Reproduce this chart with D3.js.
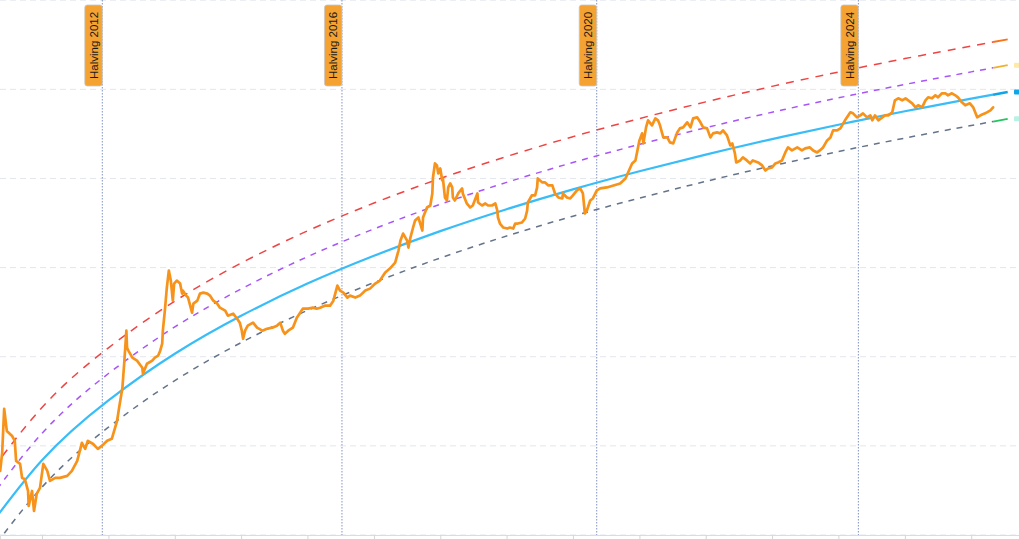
<!DOCTYPE html>
<html>
<head>
<meta charset="utf-8">
<script src="https://cdn.jsdelivr.net/npm/d3@7"></script>
<style>
html,body{margin:0;padding:0;background:#fff;overflow:hidden;}
svg{display:block;}
</style>
</head>
<body>
<svg id="chart" width="1019" height="539"></svg>
<script>
// ---------- DATA ----------
// Bitcoin price (decimal year, USD)
const priceYears = [
2011.37,2011.40,2011.43,2011.47,2011.55,2011.59,2011.61,2011.67,2011.70,2011.74,
2011.79,2011.80,2011.85,2011.88,2011.92,2011.97,2012.02,2012.08,2012.12,2012.20,
2012.27,2012.38,2012.45,2012.53,2012.60,2012.65,2012.69,2012.77,2012.84,2012.90,
2012.98,2013.05,2013.13,2013.16,2013.21,2013.24,2013.27,2013.28,2013.30,2013.36,
2013.43,2013.51,2013.52,2013.58,2013.66,2013.70,2013.75,2013.78,2013.81,2013.82,
2013.85,2013.88,2013.91,2013.94,2013.97,2013.99,2014.03,2014.08,2014.11,2014.12,
2014.17,2014.20,2014.26,2014.28,2014.34,2014.38,2014.43,2014.49,2014.53,2014.58,
2014.64,2014.68,2014.76,2014.80,2014.88,2014.94,2014.98,2015.01,2015.03,2015.06,
2015.10,2015.18,2015.24,2015.32,2015.39,2015.47,2015.54,2015.59,2015.63,2015.66,
2015.71,2015.78,2015.84,2015.89,2015.93,2016.01,2016.07,2016.14,2016.19,2016.26,
2016.34,2016.39,2016.45,2016.49,2016.54,2016.60,2016.64,2016.72,2016.79,2016.87,
2016.94,2017.02,2017.09,2017.17,2017.24,2017.32,2017.37,2017.40,2017.44,2017.50,
2017.52,2017.55,2017.59,2017.62,2017.67,2017.73,2017.74,2017.80,2017.85,2017.88,
2017.89,2017.92,2017.95,2017.97,2018.00,2018.03,2018.04,2018.07,2018.10,2018.12,
2018.15,2018.18,2018.19,2018.22,2018.27,2018.33,2018.34,2018.40,2018.45,2018.49,
2018.56,2018.57,2018.63,2018.68,2018.72,2018.78,2018.83,2018.86,2018.87,2018.90,
2018.95,2019.01,2019.05,2019.10,2019.13,2019.17,2019.23,2019.28,2019.31,2019.32,
2019.38,2019.43,2019.46,2019.47,2019.54,2019.58,2019.63,2019.69,2019.73,2019.78,
2019.84,2019.85,2019.91,2019.96,2020.00,2020.06,2020.11,2020.15,2020.18,2020.21,
2020.26,2020.30,2020.36,2020.41,2020.51,2020.61,2020.71,2020.79,2020.83,2020.89,
2020.94,2020.97,2021.00,2021.04,2021.06,2021.10,2021.13,2021.19,2021.24,2021.28,
2021.31,2021.36,2021.42,2021.46,2021.51,2021.57,2021.61,2021.66,2021.72,2021.77,
2021.81,2021.87,2021.92,2021.96,2022.02,2022.07,2022.11,2022.17,2022.22,2022.26,
2022.32,2022.37,2022.40,2022.44,2022.46,2022.52,2022.56,2022.62,2022.67,2022.71,
2022.79,2022.85,2022.90,2022.94,2023.00,2023.05,2023.09,2023.15,2023.20,2023.24,
2023.30,2023.38,2023.45,2023.50,2023.57,2023.62,2023.68,2023.72,2023.77,2023.83,
2023.88,2023.92,2023.98,2024.03,2024.10,2024.15,2024.18,2024.22,2024.28,2024.33,
2024.37,2024.43,2024.48,2024.51,2024.55,2024.60,2024.66,2024.70,2024.75,2024.81,
2024.85,2024.90,2024.96,2025.01,2025.05,2025.11,2025.16,2025.20,2025.26,2025.31,
2025.35,2025.41,2025.46,2025.50,2025.56,2025.61,2025.65,2025.71,2025.76,2025.80,
2025.86,2025.91,2025.98,2026.03,2026.06,2026.09,2026.14,2026.21,2026.29,2026.33
];
const priceValues = [
5.24,8.35,26.1,14.7,12.9,11.4,6.79,6.28,4.37,4.26,
3.12,2.12,3.12,1.86,2.89,3.38,6.28,5.24,4.05,4.37,
4.37,4.61,5.24,6.79,10.8,9.26,11.4,10.5,9.26,10.0,
11.4,12.0,19.1,26.7,44.9,90.3,196,126,117,97.6,
90.3,75.3,64.5,83.5,90.3,97.6,103,117,140,196,
329,597,926,715,426,662,715,662,511,552,
485,461,312,394,426,511,524,511,485,426,
394,355,329,289,304,267,241,196,159,196,
223,241,212,196,206,212,223,241,196,181,
196,212,274,312,346,346,355,346,355,374,
374,426,628,552,524,461,485,461,485,552,
581,662,715,880,976,1138,1552,2011,2410,2011,
1678,2173,2816,3375,3648,2605,3648,4726,4977,6790,
10260,14740,14000,11380,12950,9507,10000,6122,5665,7931,
8797,7931,6122,5665,6790,7729,6790,5241,4726,4977,
6790,5379,4977,5241,4977,4977,5241,4372,3648,3122,
2816,2743,2816,2743,3122,3122,3205,3554,4372,5379,
6447,6447,7931,10000,9027,9027,8353,8353,6790,6122,
5966,6790,6122,5966,6447,7339,7729,6790,4046,4372,
5665,5966,7339,7729,7931,8353,8797,10000,11680,14740,
15930,20630,26730,32050,24740,37430,44870,39420,47260,44870,
39420,28890,28890,25380,24740,32880,36480,37430,42600,37430,
47260,48500,42600,37430,36480,28890,32050,32880,32050,34630,
30430,23480,24740,19090,15130,15930,17220,15930,14740,15930,
15130,14000,12300,12950,13290,14740,15130,15930,19590,22300,
20630,22300,20630,21730,22300,20630,19590,20630,22300,26730,
28890,34630,34630,36480,44870,51070,55200,53790,48500,51070,
53790,48500,51070,44870,51070,44870,48500,51070,51070,55200,
75310,79310,75310,79310,75310,69680,62830,66170,62830,75310,
81390,79310,85720,81390,90270,90270,85720,90270,85720,81390,
71510,66170,69680,62830,55200,48500,51070,53790,58130,62830
];

// Power-law model bands (decimal year, USD)
const modelYears    = [2011,2012,2013,2014,2015,2016,2017,2018,2019,2020,2021,2022,2023,2024,2025,2026,2026.33];
const fairValues    = [0.771,6.89,32.4,108,288,662,1358,2564,4519,7551,12050,18540,27670,40090,56750,78520,87100];
const topValues     = [3.01,26.9,126,421,1123,2582,5296,10000,17620,29450,47000,72310,107900,156400,221300,306200,339700];
const upperValues   = [1.54,13.8,64.8,216,576,1324,2716,5128,9038,15100,24100,37080,55340,80180,113500,157000,174200];
const lowerValues   = [0.386,3.44,16.2,54,144,331,679,1282,2260,3776,6025,9270,13840,20050,28380,39260,43550];

// Projection segments at the end of each band
const projYears  = [2026.33, 2026.55];
const projTop    = [339700, 364000];
const projUpper  = [174200, 186700];
const projFair   = [87100, 93330];
const projLower  = [43550, 46670];

// Halvings
const halvingDates  = ["2012-11-28","2016-07-09","2020-05-11","2024-04-20"];
const halvingLabels = ["Halving 2012","Halving 2016","Halving 2020","Halving 2024"];

// Log grid values
const gridValues = [1,10,100,1000,10000,100000,1000000];
const tickYears  = [2012,2013,2014,2015,2016,2017,2018,2019,2020,2021,2022,2023,2024,2025,2026];

// ---------- CHART ----------
const W = 1019, H = 539, plotBottom = 535;
const svg = d3.select("#chart");

const toDate = y => {
  const yr = Math.floor(y);
  const s = Date.UTC(yr,0,1), e = Date.UTC(yr+1,0,1);
  return new Date(s + (y-yr)*(e-s));
};

const x = d3.scaleUtc()
  .domain([new Date(Date.UTC(2011,4,15)), new Date(Date.UTC(2026,8,21))])
  .range([0, W]);
const y = d3.scaleLog().domain([1, 1e6]).range([plotBottom, 0.2]);

svg.append("defs").append("clipPath").attr("id","clip")
  .append("rect").attr("x",0).attr("y",0).attr("width",W).attr("height",plotBottom);

// grid
svg.append("g").selectAll("line").data(gridValues).join("line")
  .attr("x1",0).attr("x2",W)
  .attr("y1",d=>y(d)).attr("y2",d=>y(d))
  .attr("stroke","#e3e6ec").attr("stroke-width",1).attr("stroke-dasharray","6,4");

// x axis
const axis = d3.axisBottom(x)
  .tickValues(tickYears.map(t=>new Date(Date.UTC(t,0,1))))
  .tickSize(5).tickFormat("");
const ax = svg.append("g").attr("transform",`translate(0,${plotBottom})`).call(axis);
ax.select(".domain").attr("stroke","#dcdcdc");
ax.selectAll(".tick line").attr("stroke","#d6d6d6");

// halving lines
const hDates = halvingDates.map(d=>new Date(d+"T00:00:00Z"));
svg.append("g").selectAll("line").data(hDates).join("line")
  .attr("x1",d=>x(d)).attr("x2",d=>x(d))
  .attr("y1",0).attr("y2",plotBottom)
  .attr("stroke","#8494c2").attr("stroke-width",1).attr("stroke-dasharray","1.5,1.5");

const plot = svg.append("g").attr("clip-path","url(#clip)");

const modelLine = d3.line()
  .x(d=>x(toDate(d[0]))).y(d=>y(d[1]))
  .curve(d3.curveNatural);

const bands = [
  {vals: topValues,   proj: projTop,   color:"#ef4444", pc:"#f97316", w:1.5, dash:"8,7"},
  {vals: upperValues, proj: projUpper, color:"#a855f7", pc:"#f0b22e", w:1.5, dash:"6,6"},
  {vals: lowerValues, proj: projLower, color:"#64748b", pc:"#22c55e", w:1.5, dash:"6,6"},
  {vals: fairValues,  proj: projFair,  color:"#38bdf8", pc:"#0ea5e9", w:2.2, dash:null}
];

bands.forEach(b=>{
  plot.append("path")
    .datum(modelYears.map((t,i)=>[t,b.vals[i]]))
    .attr("d",modelLine)
    .attr("fill","none").attr("stroke",b.color).attr("stroke-width",b.w)
    .attr("stroke-dasharray",b.dash);
  plot.append("path")
    .datum(projYears.map((t,i)=>[t,b.proj[i]]))
    .attr("d",d3.line().x(d=>x(toDate(d[0]))).y(d=>y(d[1])))
    .attr("fill","none").attr("stroke",b.pc).attr("stroke-width",b.w+0.3);
});

// price
plot.append("path")
  .datum(priceYears.map((t,i)=>[t,priceValues[i]]))
  .attr("d",d3.line().x(d=>x(toDate(d[0]))).y(d=>y(d[1])))
  .attr("fill","none").attr("stroke","#f7931a").attr("stroke-width",2.7)
  .attr("stroke-linejoin","round").attr("stroke-linecap","round");

// clipped end badges at right edge
const endBadges = [
  {v: projUpper[1], c:"#fde9a8"},
  {v: projFair[1],  c:"#0ea5e9"},
  {v: projLower[1], c:"#b8f2e6"}
];
svg.append("g").selectAll("rect").data(endBadges).join("rect")
  .attr("x",1014).attr("width",12)
  .attr("y",d=>y(d.v)-2.5).attr("height",5)
  .attr("rx",1).attr("fill",d=>d.c);

// halving labels
const lab = svg.append("g").selectAll("g").data(hDates).join("g")
  .attr("transform",d=>`translate(${x(d)},0)`);
lab.append("rect")
  .attr("x",-17.5).attr("y",5).attr("width",17.5).attr("height",81).attr("rx",2.5)
  .attr("fill","#f4a232").attr("stroke","#c8c8c8").attr("stroke-width",0.8);
lab.append("text")
  .attr("transform","translate(-8.5,45.5) rotate(-90)")
  .attr("text-anchor","middle").attr("dominant-baseline","central")
  .attr("font-family","'Liberation Sans', Arial, sans-serif")
  .attr("font-size","11.5px").attr("fill","#1a1a1a")
  .text((d,i)=>halvingLabels[i]);
</script>
</body>
</html>
